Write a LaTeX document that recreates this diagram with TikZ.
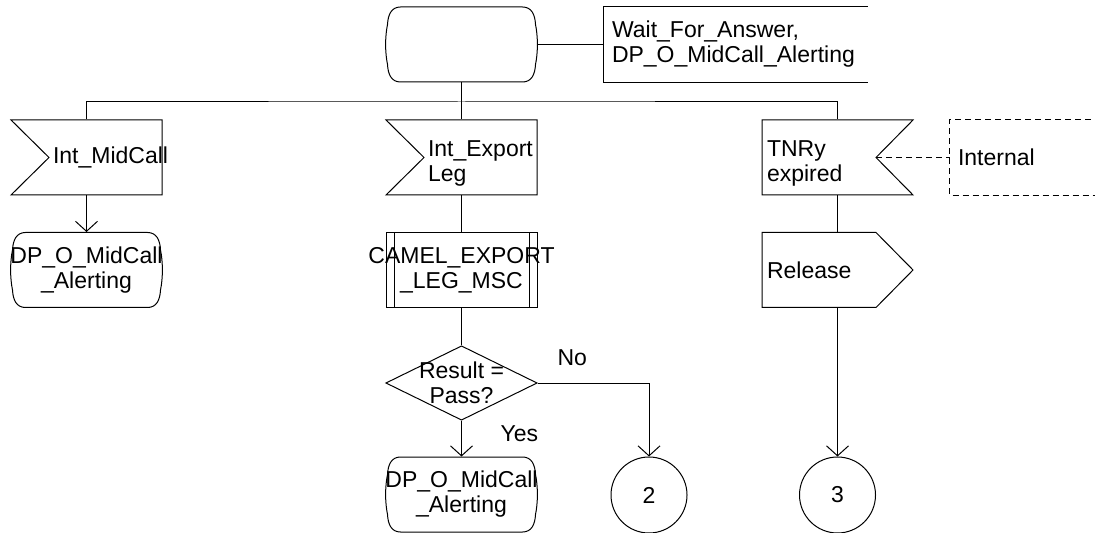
\documentclass[tikz,border=0pt]{standalone}
\usepackage{fontspec}
\setmainfont{Liberation Sans}
\usetikzlibrary{calc,arrows.meta}
\hyphenpenalty=10000
\hfuzz=300pt
\tikzset{sym/.style={minimum width=75.5pt, minimum height=37.5pt, inner sep=0pt, align=center},
  sigin/.style={sym, align=left, text width=33.5pt},
  sigtx/.style={sym, align=left, text width=70.5pt},
  lower/.style={text height=13.4pt},
  note/.style={minimum height=37.5pt, inner sep=0pt, align=left},
  lbl/.style={inner sep=0pt, anchor=base west},
  dashline/.style={dash pattern=on 3pt off 2pt},
  arr/.style={-{Straight Barb[length=5pt,width=11pt]}}}

% outlines of the SDL symbols, drawn round the centre of a node
\newcommand\stateshape[1]{%
  \draw ($(#1)+(-61,-37.5)$) -- ($(#1)+(61,-37.5)$)
    .. controls ($(#1)+(70,-37.5)$) and ($(#1)+(73.5,-30)$) .. ($(#1)+(74,-20)$)
    .. controls ($(#1)+(76.5,-8)$) and ($(#1)+(76.5,8)$) .. ($(#1)+(74,20)$)
    .. controls ($(#1)+(73.5,30)$) and ($(#1)+(70,37.5)$) .. ($(#1)+(61,37.5)$)
    -- ($(#1)+(-61,37.5)$)
    .. controls ($(#1)+(-70,37.5)$) and ($(#1)+(-73.5,30)$) .. ($(#1)+(-74,20)$)
    .. controls ($(#1)+(-76.5,8)$) and ($(#1)+(-76.5,-8)$) .. ($(#1)+(-74,-20)$)
    .. controls ($(#1)+(-73.5,-30)$) and ($(#1)+(-70,-37.5)$) .. ($(#1)+(-61,-37.5)$) -- cycle;}
\newcommand\inleft[1]{%
  \draw ($(#1)+(-75.5,-37.5)$) -- ($(#1)+(75.5,-37.5)$) -- ($(#1)+(75.5,37.5)$)
    -- ($(#1)+(-75.5,37.5)$) -- ($(#1)+(-37.5,0)$) -- cycle;}
\newcommand\inright[1]{%
  \draw ($(#1)+(-75.5,-37.5)$) -- ($(#1)+(75.5,-37.5)$) -- ($(#1)+(38.5,0)$)
    -- ($(#1)+(75.5,37.5)$) -- ($(#1)+(-75.5,37.5)$) -- cycle;}
\newcommand\outshape[1]{%
  \draw ($(#1)+(-75.5,-37.5)$) -- ($(#1)+(38.5,-37.5)$) -- ($(#1)+(75.5,0)$)
    -- ($(#1)+(38.5,37.5)$) -- ($(#1)+(-75.5,37.5)$) -- cycle;}
\newcommand\procshape[1]{%
  \draw ($(#1)+(-75.5,-37.5)$) rectangle ($(#1)+(75.5,37.5)$)
    ($(#1)+(-67.5,-37.5)$) -- ($(#1)+(-67.5,37.5)$)
    ($(#1)+(67.5,-37.5)$) -- ($(#1)+(67.5,37.5)$);}
\newcommand\decshape[1]{%
  \draw ($(#1)+(0,-37)$) -- ($(#1)+(75.5,0)$) -- ($(#1)+(0,37)$)
    -- ($(#1)+(-75.5,0)$) -- cycle;}

\begin{document}
\begin{tikzpicture}[x=0.5pt, y=-0.5pt, line width=0.5pt, font=\fontsize{11.5}{12.5}\selectfont]
  \useasboundingbox (0,0) rectangle (1095,533);

  \node at (461.5,44.5) [sym] (top) {};
  \node at (735.5,44.5) [note, minimum width=131.5pt, text width=123.5pt] (cmt)
    {Wait\_For\_Answer,\\DP\_O\_MidCall\_Alerting};
  \stateshape{top}
  \draw (cmt.north east) -- (cmt.north west) -- (cmt.south west) -- (cmt.south east);
  \draw (top.east) -- (cmt.west);

  \node at (86.5,157.5) [sigin] (midcall) {Int\_MidCall};
  \node at (461.5,157.5) [sigin, lower] (export) {Int\_Export\\Leg};
  \node at (837.5,157.5) [sigtx, lower] (tnry) {TNRy\\expired};
  \node at (1050,157.5) [note, minimum width=100pt, text width=92pt] (intl) {Internal};
  \inleft{midcall}
  \inleft{export}
  \inright{tnry}
  \draw[dashline] (intl.north east) -- (intl.north west) -- (intl.south west) -- (intl.south east);
  \coordinate (tnrytip) at ($(tnry)+(38.5,0)$);
  \draw[dashline] (tnrytip) -- (intl.west);

  \coordinate (bus) at (461.5,102);
  \draw (midcall.north) |- (bus) -| (tnry.north);
  \draw (top.south) -- (export.north);

  \node at (86.5,270) [sym] (dp1) {DP\_O\_MidCall\\\_Alerting};
  \node at (461.5,270) [sym] (camel) {CAMEL\_EXPORT\\\_LEG\_MSC};
  \node at (837.5,270) [sigtx] (release) {Release};
  \stateshape{dp1}
  \procshape{camel}
  \outshape{release}

  \node at (461.5,383) [sym] (dec) {Result =\\Pass?};
  \decshape{dec}
  \node[lbl] (no) at (557,365) {No};
  \node[lbl] (yes) at (500,441) {Yes};

  \node at (461.5,494.5) [sym] (dp2) {DP\_O\_MidCall\\\_Alerting};
  \stateshape{dp2}
  \node at (649,495) [circle, draw, minimum size=38pt, inner sep=0pt] (c2) {2};
  \node at (837.5,495) [circle, draw, minimum size=38pt, inner sep=0pt] (c3) {3};

  \draw[arr] (midcall.south) -- (dp1.north);
  \draw (export.south) -- (camel.north);
  \draw (camel.south) -- (dec.north);
  \draw[arr] (dec.south) -- (dp2.north);
  \draw[arr] (dec.east) -| (c2.north);
  \draw (tnry.south) -- (release.north);
  \draw[arr] (release.south) -- (c3.north);
\end{tikzpicture}
\end{document}
